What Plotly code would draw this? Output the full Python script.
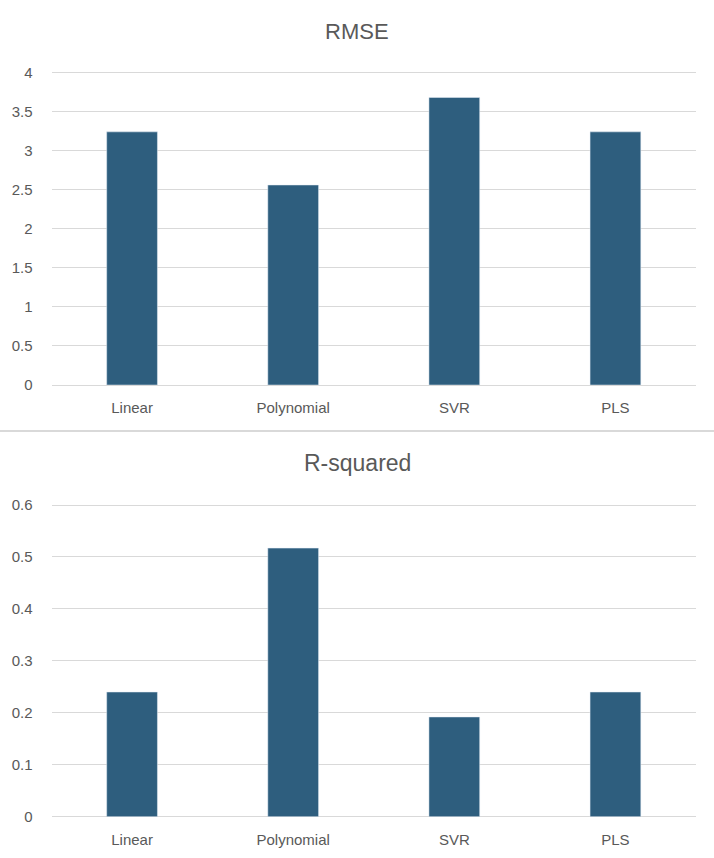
import plotly.graph_objects as go

categories = ["Linear", "Polynomial", "SVR", "PLS"]
rmse_values = [3.24, 2.56, 3.68, 3.24]
r2_values = [0.240, 0.517, 0.192, 0.240]
rmse_ticks = [0, 0.5, 1, 1.5, 2, 2.5, 3, 3.5, 4]
r2_ticks = [0, 0.1, 0.2, 0.3, 0.4, 0.5, 0.6]

W, H = 714, 858
BAR = "#2E5E7E"
GRID = "#D9D9D9"
TXT = "#595959"
FONT = "Liberation Sans, Arial, sans-serif"
PAD = 3  # px of headroom so the top gridline is drawn

def py(p):
    return 1 - p / H

def axis_geom(zero_px, top_px, top_val):
    ppu = (zero_px - top_px) / top_val
    return [py(zero_px), py(top_px - PAD)], [0, top_val + PAD / ppu]

dom1, rng1 = axis_geom(385, 72.5, rmse_ticks[-1])
dom2, rng2 = axis_geom(816.7, 505, r2_ticks[-1])

fig = go.Figure()
fig.add_trace(go.Bar(x=categories, y=rmse_values, marker_color=BAR, xaxis="x", yaxis="y",
                     showlegend=False, hoverinfo="x+y"))
fig.add_trace(go.Bar(x=categories, y=r2_values, marker_color=BAR, xaxis="x2", yaxis="y2",
                     showlegend=False, hoverinfo="x+y"))

xdom = [51.5 / W, 696 / W]
tickfont = dict(size=15, color=TXT, family=FONT)
axis_common = dict(showgrid=True, gridcolor=GRID, gridwidth=1.3, zeroline=True, zerolinecolor=GRID,
                   zerolinewidth=1.3, showline=False, ticks="", tickfont=tickfont,
                   fixedrange=True, automargin=False)
xaxis_common = dict(showgrid=False, zeroline=False, showline=False, ticks="",
                    tickfont=tickfont, ticklabelstandoff=12, automargin=False, fixedrange=True)

fig.update_layout(
    width=W, height=H,
    margin=dict(l=0, r=0, t=0, b=0),
    paper_bgcolor="white", plot_bgcolor="white",
    bargap=0.685,
    font=dict(family=FONT, color=TXT),
    xaxis=dict(domain=xdom, anchor="y", **xaxis_common),
    yaxis=dict(domain=dom1, anchor="x", range=rng1, tickvals=rmse_ticks,
               ticktext=[f"{v:g}" for v in rmse_ticks], ticklabelstandoff=18, **axis_common),
    xaxis2=dict(domain=xdom, anchor="y2", **xaxis_common),
    yaxis2=dict(domain=dom2, anchor="x2", range=rng2, tickvals=r2_ticks,
                ticktext=[f"{v:g}" for v in r2_ticks], ticklabelstandoff=18, **axis_common),
    annotations=[
        dict(text="RMSE", x=0.5, y=py(32), xref="paper", yref="paper", showarrow=False,
             font=dict(size=22, color=TXT, family=FONT), xanchor="center", yanchor="middle"),
        dict(text="R-squared", x=0.5, y=py(463), xref="paper", yref="paper", showarrow=False,
             font=dict(size=23, color=TXT, family=FONT), xanchor="center", yanchor="middle"),
    ],
    shapes=[
        dict(type="line", xref="paper", yref="paper", x0=0, x1=1, y0=py(431), y1=py(431),
             line=dict(color=GRID, width=2)),
    ],
)

fig.write_html("out.html", config={"displayModeBar": False},
               post_script="document.body.style.margin='0';document.body.style.overflow='hidden';")
